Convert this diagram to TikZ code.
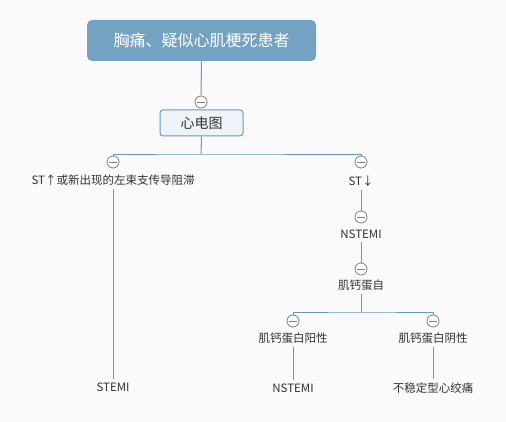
\documentclass[tikz,border=0pt]{standalone}
\usepackage{fontspec}
\setmainfont{Noto Sans CJK SC}
\usepackage{xcolor}
\usepackage{tikz}
\usetikzlibrary{positioning}
\definecolor{linec}{HTML}{6699C2}
\definecolor{rootc}{HTML}{74A2C2}
\definecolor{ecgbg}{HTML}{EEF3F7}
\definecolor{txtc}{HTML}{333333}
\definecolor{knobc}{HTML}{808080}
\definecolor{pagebg}{HTML}{FAFAFA}
\tikzset{
  ln/.style={linec,line width=1pt},
  rootbox/.style={fill=rootc,rounded corners=5pt,text=white,minimum width=229pt,minimum height=41pt,font=\fontsize{16}{18}\selectfont},
  ecgbox/.style={draw=linec,line width=1pt,fill=ecgbg,rounded corners=3pt,minimum width=83pt,minimum height=26pt,text=txtc,font=\fontsize{14}{16}\selectfont},
  lbl/.style={text=txtc,font=\fontsize{11.5}{13}\selectfont,inner sep=3pt},
  knob/.style={circle,draw=knobc,fill=white,line width=0.8pt,minimum size=12pt,inner sep=0pt,
    path picture={\draw[knobc,line width=0.8pt] ([xshift=-4pt]path picture bounding box.center) -- ([xshift=4pt]path picture bounding box.center);}}
}
\begin{document}
\begin{tikzpicture}[x=1pt,y=-1pt]
\fill[pagebg] (0,0) rectangle (506,422);
\useasboundingbox (0,0) rectangle (506,422);
% root and ecg
\node[rootbox] (root) at (201.5,40.5) {胸痛、疑似心肌梗死患者};
\node[knob] (k1) at (201,102) {};
\node[ecgbox] (ecg) at (201.5,123) {心电图};
% first split
\coordinate (bus1) at (201,155);
\node[knob] (kL) at (113,162) {};
\node[knob] (kR) at (361,162) {};
\node[lbl] (lup) at (113,180) {ST↑或新出现的左束支传导阻滞};
\node[lbl] (ldn) at (361,181) {ST↓};
\node[knob] (k3) at (361,217) {};
\node[lbl] (lns) at (361,234) {NSTEMI};
\node[knob] (k4) at (361,269) {};
\node[lbl] (ltn) at (361,285) {肌钙蛋自};
% second split
\coordinate (bus2) at (361,312);
\node[knob] (k5) at (293,321) {};
\node[knob] (k6) at (433,321) {};
\node[lbl] (lpos) at (293,338) {肌钙蛋白阳性};
\node[lbl] (lneg) at (433,338) {肌钙蛋白阴性};
% leaves
\node[lbl] (stemi) at (113,387) {STEMI};
\node[lbl] (nstemi) at (293,388) {NSTEMI};
\node[lbl] (ua) at (433,388) {不稳定型心绞痛};
% connectors
\draw[ln] (root.south) -- (k1.north);
\draw[ln] (ecg.south) -- (bus1);
\draw[ln] (kL.north) |- (bus1) -| (kR.north);
\draw[ln] (lup.south) -- (stemi.north);
\draw[ln] (ldn.south) -- (k3.north);
\draw[ln] (lns.south) -- (k4.north);
\draw[ln] (ltn.south) -- (bus2);
\draw[ln] (k5.north) |- (bus2) -| (k6.north);
\draw[ln] (lpos.south) -- (nstemi.north);
\draw[ln] (lneg.south) -- (ua.north);
\end{tikzpicture}
\end{document}
